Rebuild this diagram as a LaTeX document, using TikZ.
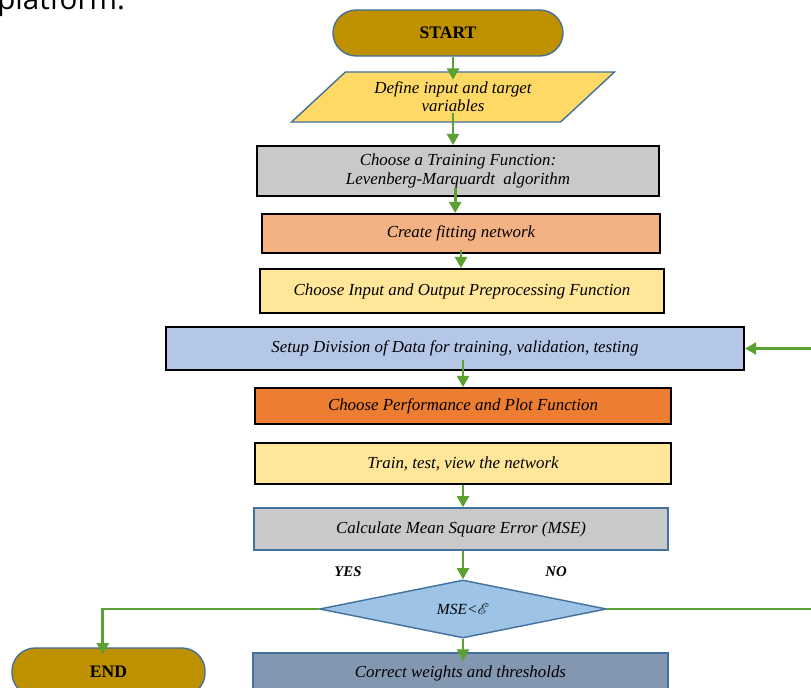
\documentclass[tikz,border=0pt]{standalone}
\usepackage{fontspec}
\usepackage{mathrsfs}
\setmainfont{Liberation Serif}
\newfontfamily\opensans{Open Sans}
\usetikzlibrary{shapes.geometric,arrows.meta}

\definecolor{gold}{HTML}{BF9000}
\definecolor{paragold}{HTML}{FFD966}
\definecolor{boxgray}{HTML}{C9C9C9}
\definecolor{salmon}{HTML}{F4B183}
\definecolor{paleyellow}{HTML}{FFE699}
\definecolor{paleblue}{HTML}{B4C7E7}
\definecolor{deeporange}{HTML}{ED7D31}
\definecolor{condblue}{HTML}{9DC3E6}
\definecolor{slateblue}{HTML}{8497B0}
\definecolor{edgeblue}{HTML}{41719C}
\definecolor{flowgreen}{HTML}{5AA033}

\tikzset{
  flow/.style={draw=flowgreen,line width=2pt,-{Triangle[width=8.5pt,length=8pt]}},
  term/.style={draw=edgeblue,line width=1pt,fill=gold,rounded corners=0.58cm,
    font=\fontsize{12.5}{14}\selectfont\bfseries,inner sep=0pt},
  box/.style={draw=black,line width=1.3pt,inner sep=0pt,align=center,
    font=\fontsize{12}{14}\selectfont\itshape},
  bluebox/.style={box,draw=edgeblue,line width=1pt},
  para/.style={trapezium,trapezium left angle=37.6,trapezium right angle=142.4,
    trapezium stretches=true,draw=edgeblue,line width=1pt,fill=paragold,inner sep=0pt,
    align=center,font=\fontsize{12}{13}\selectfont\itshape},
  cond/.style={diamond,aspect=4.95,draw=edgeblue,line width=1pt,fill=condblue,inner sep=0pt,
    font=\fontsize{11}{12}\selectfont\itshape},
  answer/.style={font=\fontsize{10.5}{12}\selectfont\bfseries\itshape}
}

\begin{document}
\begin{tikzpicture}[x=0.025cm,y=-0.025cm]
        \useasboundingbox (0,0) rectangle (811,688);
        %% Text cut from the page above
        \node[anchor=base west,inner sep=0pt,font=\opensans\fontsize{21}{24}\selectfont] (frag) at (-3,10) {platform.};
        %% Steps
        \node[term,minimum width=5.75cm,minimum height=1.15cm] (start) at (448,33) {START};
        \node[para,minimum width=8.08cm,minimum height=1.25cm] (para) at (453,97) {Define input and target\\variables};
        \node[box,fill=boxgray,minimum width=10.05cm,minimum height=1.25cm] (train) at (458,171) {Choose a Training Function:\\Levenberg-Marquardt\ \ algorithm};
        \node[box,fill=salmon,minimum width=9.95cm,minimum height=0.975cm] (fit) at (461,233.5) {Create fitting network};
        \node[box,fill=paleyellow,minimum width=10.1cm,minimum height=1.1cm] (prep) at (462,291) {Choose Input and Output Preprocessing Function};
        \node[box,fill=paleblue,minimum width=14.45cm,minimum height=1.075cm] (setup) at (455,348.5) {Setup Division of Data for training, validation, testing};
        \node[box,fill=deeporange,minimum width=10.4cm,minimum height=0.9cm] (perf) at (463,406) {Choose Performance and Plot Function};
        \node[box,fill=paleyellow,minimum width=10.4cm,minimum height=1.025cm] (view) at (463,463.5) {Train, test, view the network};
        \node[bluebox,fill=boxgray,minimum width=10.35cm,minimum height=1.05cm] (mse) at (461,529) {Calculate Mean Square Error (MSE)};
        \node[cond,minimum width=7.175cm,minimum height=1.45cm] (check) at (463,609) {MSE<$\mathscr{E}$};
        \node[bluebox,fill=slateblue,minimum width=10.375cm,minimum height=1cm] (corr) at (460.5,673) {Correct weights and thresholds};
        \node[term,minimum width=4.825cm,minimum height=1.2cm] (stop) at (108.5,672) {END};
        %% Answers
        \node[answer] (yes) at (348,572) {YES};
        \node[answer] (no) at (556,572) {NO};
        %% Flow
        \coordinate (loop) at (850,0);
        \draw[flow,shorten >=-6pt] (para.north |- start.south) -- (para.north);
        \draw[flow,shorten <=-7pt] (para.south) -- (para.south |- train.north);
        \draw[flow,shorten <=-6pt] ([xshift=-2pt]train.south) -- ([xshift=-2pt]train.south |- fit.north);
        \draw[flow,shorten <=-3pt] (fit.south) -- (fit.south |- prep.north);
        \draw[flow,shorten <=-8pt] (perf.north |- setup.south) -- (perf.north);
        \draw[flow] (view.south) -- (view.south |- mse.north);
        \draw[flow] (check.north |- mse.south) -- (check.north);
        \draw[flow,shorten >=-6pt] (check.south) -- (check.south |- corr.north);
        \draw[flow,shorten >=-5pt] (check.west) -| ([xshift=-4pt]stop.north);
        \draw[flow] (check.east) -- (check.east -| loop) |- (setup.east);
\end{tikzpicture}
\end{document}
